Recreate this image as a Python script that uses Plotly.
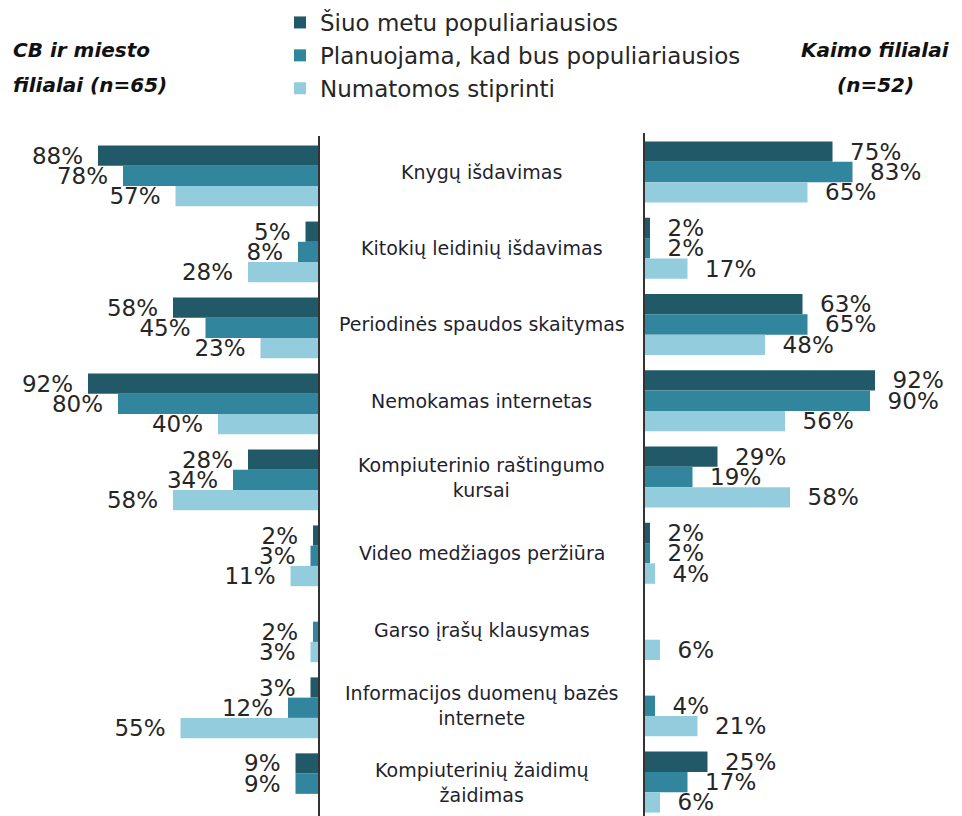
import plotly.graph_objects as go

categories = [
    "Knygų išdavimas",
    "Kitokių leidinių išdavimas",
    "Periodinės spaudos skaitymas",
    "Nemokamas internetas",
    "Kompiuterinio raštingumo kursai",
    "Video medžiagos peržiūra",
    "Garso įrašų klausymas",
    "Informacijos duomenų bazės internete",
    "Kompiuterinių žaidimų žaidimas",
]
category_labels = [
    "Knygų išdavimas",
    "Kitokių leidinių išdavimas",
    "Periodinės spaudos skaitymas",
    "Nemokamas internetas",
    "Kompiuterinio raštingumo<br>kursai",
    "Video medžiagos peržiūra",
    "Garso įrašų klausymas",
    "Informacijos duomenų bazės<br>internete",
    "Kompiuterinių žaidimų<br>žaidimas",
]
series_names = [
    "Šiuo metu populiariausios",
    "Planuojama, kad bus populiariausios",
    "Numatomos stiprinti",
]
city_current = [88, 5, 58, 92, 28, 2, None, 3, 9]
city_planned = [78, 8, 45, 80, 34, 3, 2, 12, 9]
city_strengthen = [57, 28, 23, 40, 58, 11, 3, 55, None]
rural_current = [75, 2, 63, 92, 29, 2, None, None, 25]
rural_planned = [83, 2, 65, 90, 19, 2, None, 4, 17]
rural_strengthen = [65, 17, 48, 56, 58, 4, 6, 21, 6]

left_title = ["CB ir miesto", "filialai (n=65)"]
right_title = ["Kaimo filialai", "(n=52)"]

colors = ["#215968", "#31859C", "#93CDDD"]
FONT = "DejaVu Sans, Verdana, sans-serif"
W, H = 962, 816
OFF = 8  # page body margin offset

fig = go.Figure()
NB = "\u00a0"
THIN = "\u2009"
for i, (vals, name) in enumerate(zip([city_current, city_planned, city_strengthen], series_names)):
    fig.add_trace(go.Bar(
        y=categories, x=vals, orientation="h", name=name,
        marker=dict(color=colors[i], line=dict(width=0)),
        xaxis="x", yaxis="y", legendgroup=name, showlegend=True,
        text=[None if v is None else f"{v}%" for v in vals],
        texttemplate="%{text}" + NB + THIN,
        textposition="outside", constraintext="none", cliponaxis=False,
        textfont=dict(family=FONT, size=23, color="#262626"),
        hoverinfo="skip",
    ))
for i, (vals, name) in enumerate(zip([rural_current, rural_planned, rural_strengthen], series_names)):
    fig.add_trace(go.Bar(
        y=categories, x=vals, orientation="h", name=name,
        marker=dict(color=colors[i], line=dict(width=0)),
        xaxis="x2", yaxis="y2", legendgroup=name, showlegend=False,
        text=[None if v is None else f"{v}%" for v in vals],
        texttemplate=NB * 2 + "%{text}",
        textposition="outside", constraintext="none", cliponaxis=False,
        textfont=dict(family=FONT, size=23, color="#262626"),
        hoverinfo="skip",
    ))

common_y = dict(type="category", categoryorder="array", categoryarray=categories,
                showticklabels=False, ticks="",
                showgrid=False, zeroline=False, showline=True, linecolor="#333333", linewidth=1.6)

annotations = []
for cat, lab in zip(categories, category_labels):
    annotations.append(dict(x=(481.5 - OFF) / W, xref="paper", y=cat, yref="y2", text=lab,
                            showarrow=False, xanchor="center", yanchor="middle", align="center",
                            font=dict(family=FONT, size=19, color="#1f1f2f")))
for j, t in enumerate(left_title):
    annotations.append(dict(x=3 / W, xref="paper", y=1 - (42 + 35 * j) / H, yref="paper",
                            text=f"<b><i>{t}</i></b>", showarrow=False, xanchor="left", yanchor="middle",
                            font=dict(family=FONT, size=20, color="#111111")))
for j, t in enumerate(right_title):
    annotations.append(dict(x=867 / W, xref="paper", y=1 - (42 + 35 * j) / H, yref="paper",
                            text=f"<b><i>{t}</i></b>", showarrow=False, xanchor="center", yanchor="middle",
                            font=dict(family=FONT, size=20, color="#111111")))

fig.update_layout(
    width=W, height=H, margin=dict(l=0, r=0, t=0, b=0, autoexpand=False),
    paper_bgcolor="white", plot_bgcolor="rgba(0,0,0,0)",
    barmode="group", bargap=0.2, bargroupgap=0,
    xaxis=dict(domain=[(68 - OFF) / W, (318 - OFF) / W], range=[100, 0], visible=False, fixedrange=True),
    xaxis2=dict(domain=[(645 - OFF) / W, (895 - OFF) / W], range=[0, 100], visible=False, fixedrange=True),
    yaxis=dict(anchor="x", side="right", domain=[0, 1 - (136 - OFF) / H], range=[8.53, -0.526], **common_y),
    yaxis2=dict(anchor="x2", side="left", domain=[0, 1 - (133 - OFF) / H], range=[8.55, -0.511], **common_y),
    showlegend=True,
    legend=dict(x=272 / W, y=1 + 7 / H, xanchor="left", yanchor="top",
                orientation="v", traceorder="normal", tracegroupgap=13,
                font=dict(family=FONT, size=23, color="#262626"),
                bgcolor="rgba(0,0,0,0)"),
    annotations=annotations,
)

fig.write_html("out.html")
